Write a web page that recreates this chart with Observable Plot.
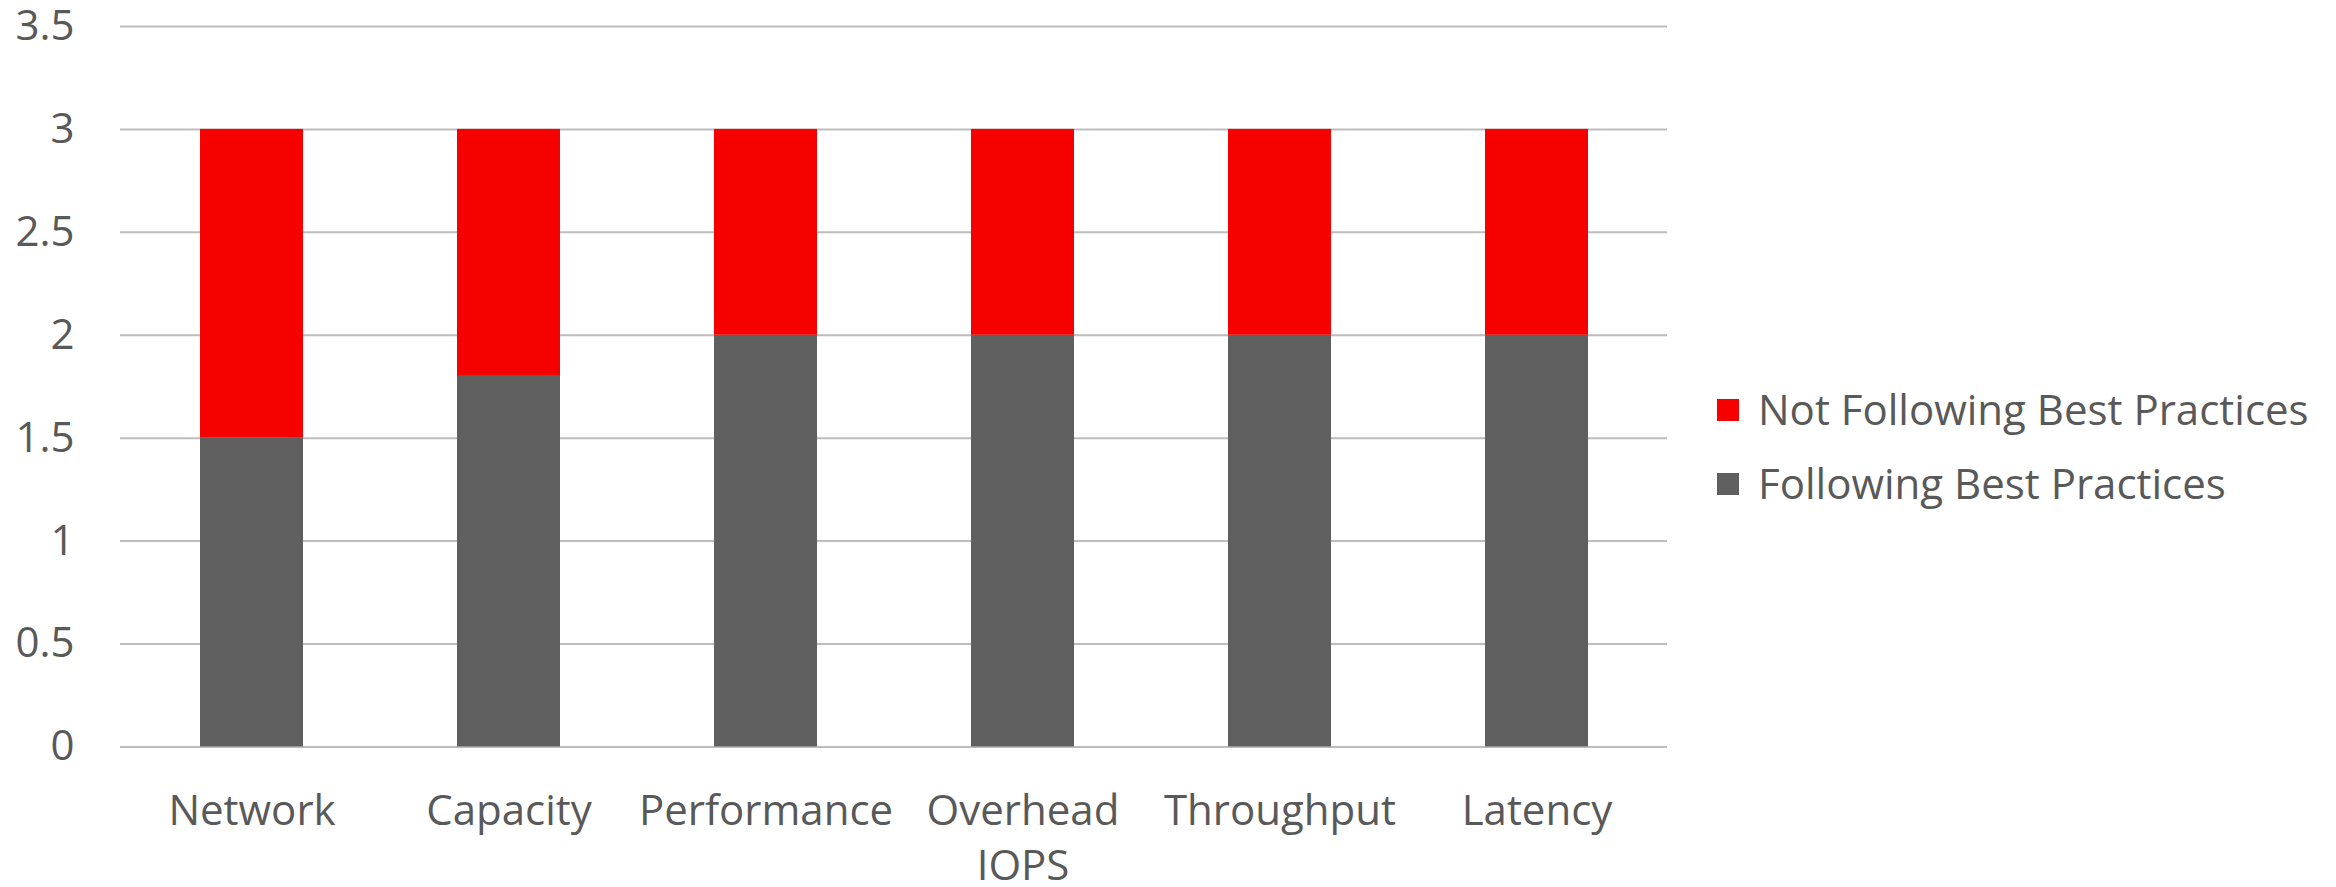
<!DOCTYPE html>
<html>
<head>
<meta charset="utf-8">
<script src="https://cdn.jsdelivr.net/npm/d3@7"></script>
<script src="https://cdn.jsdelivr.net/npm/@observablehq/plot@0.6"></script>
<style>
  html, body { margin: 0; padding: 0; background: #fff; }
  #wrap { position: relative; width: 2336px; height: 887px; font-family: "Open Sans", sans-serif; color: #595959; }
  #chart { position: absolute; left: 0; top: 0; }
  #chart svg { overflow: visible; }
  .row { position: absolute; left: 1717px; height: 42px; }
  .sw { position: absolute; left: 0; top: 11px; width: 22px; height: 22px; }
  .lbl { position: absolute; left: 41px; top: 0; font-size: 42px; line-height: 42px; white-space: nowrap; }
</style>
</head>
<body>
<div id="wrap">
  <div id="chart"></div>
  <div class="row" style="top:388px"><div class="sw" style="background:#f70000"></div><div class="lbl">Not Following Best Practices</div></div>
  <div class="row" style="top:462px"><div class="sw" style="background:#5f5f5f"></div><div class="lbl">Following Best Practices</div></div>
</div>
<script>
const categories = ["Network", "Capacity", "Performance", "Overhead IOPS", "Throughput", "Latency"];
const tickLabels = ["Network", "Capacity", "Performance", "Overhead\nIOPS", "Throughput", "Latency"];
const following = [1.5, 1.8, 2, 2, 2, 2];
const notFollowing = [1.5, 1.2, 1, 1, 1, 1];
const yTicks = [0, 0.5, 1, 1.5, 2, 2.5, 3, 3.5];
const seriesNames = ["Following Best Practices", "Not Following Best Practices"];
const seriesColors = ["#5f5f5f", "#f70000"];

const data = [];
categories.forEach((c, i) => {
  data.push({category: c, series: seriesNames[0], value: following[i]});
  data.push({category: c, series: seriesNames[1], value: notFollowing[i]});
});

const chart = Plot.plot({
  width: 1700,
  height: 887,
  marginLeft: 120,
  marginRight: 33,
  marginTop: 26,
  marginBottom: 140.6,
  style: {fontFamily: "Open Sans, sans-serif", fontSize: "42px", color: "#595959", background: "#fff", overflow: "visible"},
  x: {domain: categories, paddingInner: 0.6, paddingOuter: 0.3, label: null},
  y: {domain: [0, 3.5], label: null},
  color: {domain: seriesNames, range: seriesColors},
  marks: [
    Plot.gridY(yTicks, {stroke: "#bdbdbd", strokeOpacity: 1, strokeWidth: 2}),
    Plot.barY(data, {x: "category", y: "value", fill: "series", order: seriesNames}),
    Plot.axisY({ticks: yTicks, tickSize: 0, tickPadding: 46, fontSize: 42, label: null, tickFormat: d => String(d)}),
    Plot.axisX({tickSize: 0, tickPadding: 38, fontSize: 42, label: null, lineHeight: 1.33,
      tickFormat: d => tickLabels[categories.indexOf(d)]})
  ]
});
document.getElementById("chart").appendChild(chart);
</script>
</body>
</html>
